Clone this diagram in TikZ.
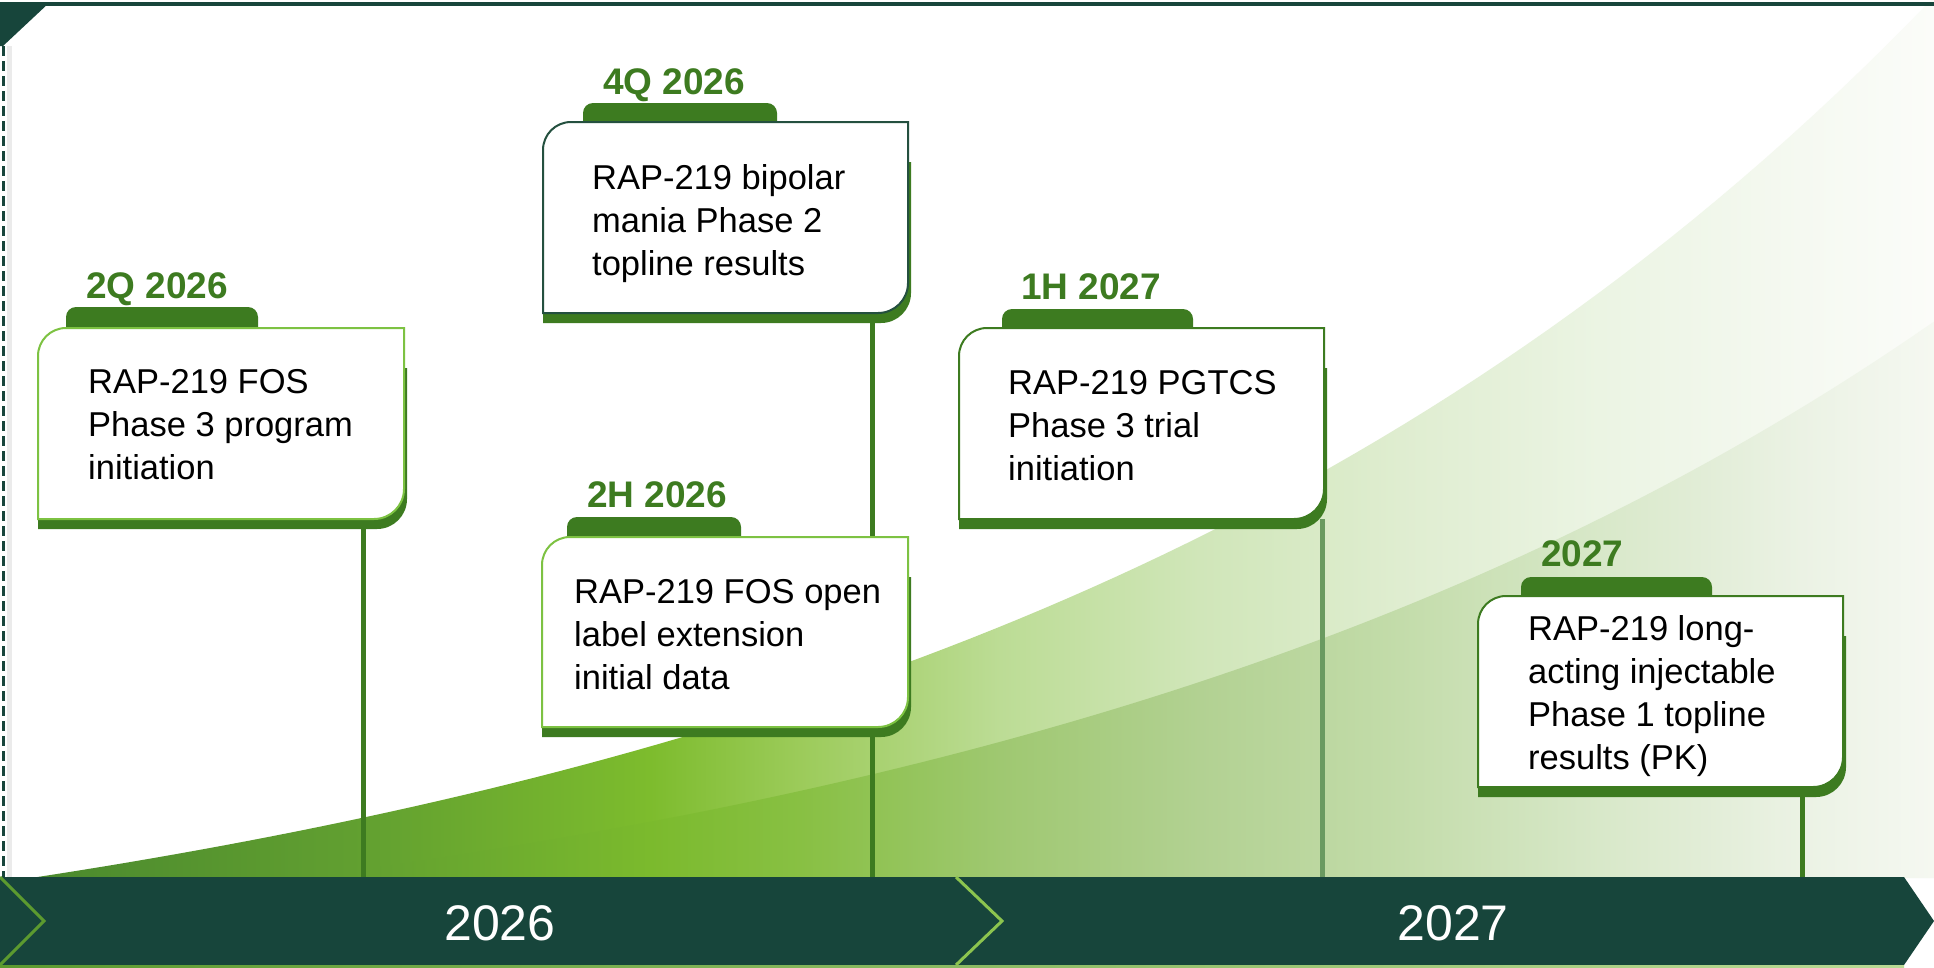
\documentclass[tikz,border=0pt]{standalone}
\usepackage{fontspec}
\setmainfont{Liberation Sans}

% palette
\definecolor{barteal}{HTML}{17453B}
\definecolor{leaf}{HTML}{3D7B20}
\definecolor{brightrim}{HTML}{7DC242}
\definecolor{tealrim}{HTML}{24503F}
\definecolor{greystem}{HTML}{6A9A60}
\definecolor{chevA}{HTML}{5C9A2F}
\definecolor{chevB}{HTML}{8CC44F}
\definecolor{baseline}{HTML}{B9DA95}

% colours of the rising growth band (back layer)
\definecolor{oa}{HTML}{4A892E}
\definecolor{ob}{HTML}{62A030}
\definecolor{oc}{HTML}{7DBC2D}
\definecolor{od}{HTML}{9CCB5A}
\definecolor{oe}{HTML}{BCDC95}
\definecolor{of}{HTML}{D0E6B9}
\definecolor{og}{HTML}{DFEDD0}
\definecolor{oh}{HTML}{EBF4E3}
\definecolor{oi}{HTML}{F5F9F1}
\definecolor{oj}{HTML}{FBFCF9}
% colours of the front layer
\definecolor{ia}{HTML}{4A892E}
\definecolor{ib}{HTML}{62A030}
\definecolor{ic}{HTML}{7BBA2D}
\definecolor{id}{HTML}{88C043}
\definecolor{ie}{HTML}{9FC871}
\definecolor{if}{HTML}{B2D192}
\definecolor{ig}{HTML}{C3DCAA}
\definecolor{ih}{HTML}{D8E8C9}
\definecolor{ii}{HTML}{EBF2E4}
\definecolor{ij}{HTML}{F5F8F1}

% both layers span x = 31 ... 1934, mapped onto 25bp ... 75bp
\pgfdeclarehorizontalshading{backband}{100bp}{%
  color(0bp)=(oa); color(25bp)=(oa); color(33.75bp)=(ob); color(41.27bp)=(oc);
  color(45.2bp)=(od); color(50.46bp)=(oe); color(55.7bp)=(of); color(60.97bp)=(og);
  color(66.2bp)=(oh); color(71.5bp)=(oi); color(75bp)=(oj); color(100bp)=(oj)}
\pgfdeclarehorizontalshading{frontband}{100bp}{%
  color(0bp)=(ia); color(25bp)=(ia); color(33.75bp)=(ib); color(41.27bp)=(ic);
  color(45.2bp)=(id); color(50.46bp)=(ie); color(55.7bp)=(if); color(60.97bp)=(ig);
  color(66.2bp)=(ih); color(71.5bp)=(ii); color(75bp)=(ij); color(100bp)=(ij)}

% milestone card: #1 left, #2 top, #3 right, #4 bottom, #5 rim colour,
% #6 tab left, #7 tab right, #8 tab top
\newcommand\milecard[8]{%
  \fill[leaf] (#6,#2+1) -- (#6,#8+10) .. controls (#6,#8+4.5) and (#6+4.5,#8) .. (#6+10,#8)
     -- (#7-10,#8) .. controls (#7-4.5,#8) and (#7,#8+4.5) .. (#7,#8+10) -- (#7,#2+1) -- cycle;
  \fill[leaf] (#1,#2+40) -- (#3+3,#2+40) -- (#3+3,#4-20)
     .. controls (#3+3,#4-3.4) and (#3-10.4,#4+10) .. (#3-27,#4+10) -- (#1,#4+10) -- cycle;
  \filldraw[fill=white, draw=#5, line width=2pt] (#1,#4) -- (#1,#2+28)
     .. controls (#1,#2+12.5) and (#1+12.5,#2) .. (#1+28,#2) -- (#3,#2) -- (#3,#4-30)
     .. controls (#3,#4-13.4) and (#3-13.4,#4) .. (#3-30,#4) -- cycle;
}

\tikzset{
  cardtext/.style={anchor=base west, inner sep=0pt, text=black,
    font=\fontsize{34.5}{43}\selectfont},
  datelabel/.style={anchor=base west, inner sep=0pt, text=leaf,
    font=\fontsize{37}{40}\selectfont\bfseries},
  yearlabel/.style={anchor=base, inner sep=0pt, text=white,
    font=\fontsize{50}{55}\selectfont},
  stem/.style={line width=5pt, leaf},
}

\newcommand\cardlines[1]{\parbox[t]{400pt}{\raggedright #1}}

\begin{document}
\begin{tikzpicture}[x=1pt, y=-1pt]
\useasboundingbox (0,0) rectangle (1934,967);
\fill[white] (0,0) rectangle (1934,967);

% growth band, two exponential layers
\shade[shading=backband] plot[domain=31:1934, samples=80]
  (\x, {878-152*(exp(0.001*(\x-31))-1)}) -- (1934,878) -- (31,878) -- cycle;
\shade[shading=frontband] (31,878) -- plot[domain=300:1934, samples=80]
  (\x, {878-133*(exp(0.001*(\x-300))-1)}) -- (1934,878) -- cycle;

% frame: top rule, corner flag and dashed left edge
\fill[barteal] (0,2) rectangle (1934,6);
\fill[barteal] (0,2) -- (50,2) -- (3,46) -- (0,46) -- cycle;
\draw[black!8, line width=5pt] (9,46) -- (9,877);
\draw[barteal, line width=3pt, dash pattern=on 10pt off 5pt] (3,46) -- (3,877);

% stem anchors
\coordinate (s1a) at (363,519);  \coordinate (s1b) at (363,877);
\coordinate (s2a) at (872,313);  \coordinate (s2b) at (872,537);
\coordinate (s3a) at (872,727);  \coordinate (s3b) at (872,877);
\coordinate (s4a) at (1322,519); \coordinate (s4b) at (1322,877);
\coordinate (s5a) at (1802,787); \coordinate (s5b) at (1802,877);

\draw[stem] (s1a) -- (s1b);
\draw[stem] (s2a) -- (s2b);
\draw[stem] (s3a) -- (s3b);
\draw[stem, greystem] (s4a) -- (s4b);
\draw[stem] (s5a) -- (s5b);

% milestone cards
\milecard{38}{328}{404}{519}{brightrim}{66}{258}{307}
\node[datelabel] (d1) at (86,298) {2Q 2026};
\node[cardtext] (t1) at (88,393) {\cardlines{RAP-219 FOS\\Phase 3 program\\initiation}};

\milecard{543}{122}{908}{313}{tealrim}{583}{777}{103}
\node[datelabel] (d2) at (603,94) {4Q 2026};
\node[cardtext] (t2) at (592,189) {\cardlines{RAP-219 bipolar\\mania Phase 2\\topline results}};

\milecard{542}{537}{908}{727}{brightrim}{567}{741}{517}
\node[datelabel] (d3) at (587,507) {2H 2026};
\node[cardtext] (t3) at (574,603) {\cardlines{RAP-219 FOS open\\label extension\\initial data}};

\milecard{959}{328}{1324}{519}{leaf}{1002}{1193}{309}
\node[datelabel] (d4) at (1021,299) {1H 2027};
\node[cardtext] (t4) at (1008,394) {\cardlines{RAP-219 PGTCS\\Phase 3 trial\\initiation}};

\milecard{1478}{596}{1843}{787}{leaf}{1521}{1712}{577}
\node[datelabel] (d5) at (1541,566) {2027};
\node[cardtext] (t5) at (1528,640) {\cardlines{RAP-219 long-\\acting injectable\\Phase 1 topline\\results (PK)}};

% year bar
\fill[barteal] (0,877) -- (1904,877) -- (1934,921) -- (1904,965) -- (0,965) -- cycle;
\shade[left color=chevA, right color=baseline] (0,965) rectangle (1904,967);
\draw[chevA, line width=3pt] (0,877) -- (44,921) -- (0,965);
\draw[chevB, line width=3pt] (956,877) -- (1002,921) -- (956,965);
\node[yearlabel] (y1) at (500,940) {2026};
\node[yearlabel] (y2) at (1453,940) {2027};
\end{tikzpicture}
\end{document}
